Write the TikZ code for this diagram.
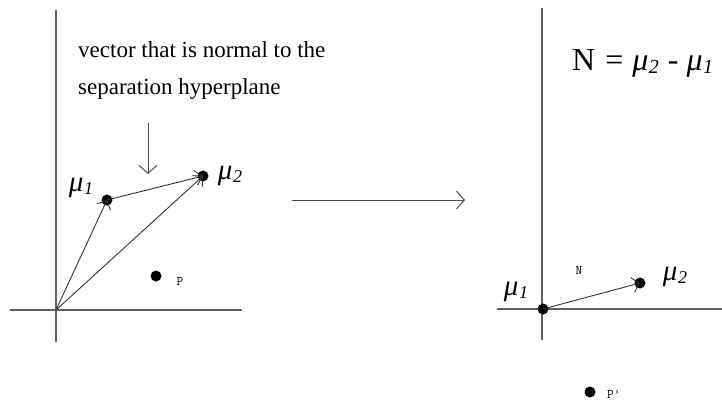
\documentclass[tikz,border=0pt]{standalone}
\usepackage{fontspec}
\setmainfont{Liberation Serif}
\usetikzlibrary{arrows.meta}
\newcommand\mulab[2]{\textit{μ\kern0.5pt\raisebox{-3pt}{\fontsize{#2}{#2}\selectfont #1}}}
\tikzset{
  axisline/.style={draw=black!62, line width=1.3pt},
  vecline/.style={draw=black!80, line width=0.9pt, -{Straight Barb[length=7pt,width=15pt,line width=0.9pt]}},
  bigarrow/.style={draw=black!70, line width=1pt, -{Straight Barb[length=8pt,width=18pt,line width=1pt]}},
  dot/.style={circle, fill=black, inner sep=0pt, minimum size=11pt},
  mulabel/.style={font=\fontsize{29}{29}\selectfont, inner sep=0pt},
  bodytext/.style={font=\fontsize{23}{28}\selectfont, inner sep=0pt, anchor=base west},
  smalllab/.style={font=\ttfamily\fontsize{13}{13}\selectfont, inner sep=0pt}
}
\begin{document}
\begin{tikzpicture}[x=1pt,y=-1pt]
\useasboundingbox (0,0) rectangle (722,402);
% left axes
\coordinate (LxL) at (10,310);
\coordinate (LxR) at (242,310);
\coordinate (LyT) at (56,10);
\coordinate (LyB) at (56,342);
\coordinate (O) at (56,310);
\draw[axisline] (LxL) -- (LxR);
\draw[axisline] (LyT) -- (LyB);
% left points
\node[dot] (m1) at (107,200) {};
\node[dot] (m2) at (203,176) {};
\node[dot] (p) at (156,276) {};
\draw[vecline] (O) -- (m1.center);
\draw[vecline] (O) -- (m2.center);
\draw[vecline] (m1.center) -- (m2.center);
\node[mulabel] (m1lab) at (81,188) {\mulab{1}{18}};
\node[mulabel] (m2lab) at (230,176) {\mulab{2}{18}};
\node[smalllab] (plab) at (180,282) {P};
% text
\node[bodytext] (t1) at (78,57) {vector that is normal to the};
\node[bodytext] (t2) at (78,94) {separation hyperplane};
\coordinate (dA) at (148,123);
\coordinate (dB) at (148,174);
\draw[bigarrow] (dA) -- (dB);
% middle arrow
\coordinate (mA) at (292,200);
\coordinate (mB) at (465,200);
\draw[bigarrow] (mA) -- (mB);
% right axes
\coordinate (RxL) at (497,309);
\coordinate (RxR) at (722,309);
\coordinate (RyT) at (542,8);
\coordinate (RyB) at (542,340);
\draw[axisline] (RxL) -- (RxR);
\draw[axisline] (RyT) -- (RyB);
\node[dot] (r1) at (543,309) {};
\node[dot] (r2) at (640,283) {};
\node[dot] (pp) at (590,392) {};
\draw[vecline] (r1.center) -- (r2.center);
\node[mulabel] (r1lab) at (516,292) {\mulab{1}{18}};
\node[mulabel] (r2lab) at (675,277) {\mulab{2}{18}};
\node[smalllab] (nlab) at (579,271) {N};
\node[smalllab, anchor=base west] (pplab) at (607,398) {P'};
\node[font=\fontsize{32}{32}\selectfont, inner sep=0pt, anchor=base west] (eq) at (572,70) {N\hspace{2pt} = \hspace{1pt}\mulab{2}{20} \hspace{1pt}- \mulab{1}{20}};
\end{tikzpicture}
\end{document}
